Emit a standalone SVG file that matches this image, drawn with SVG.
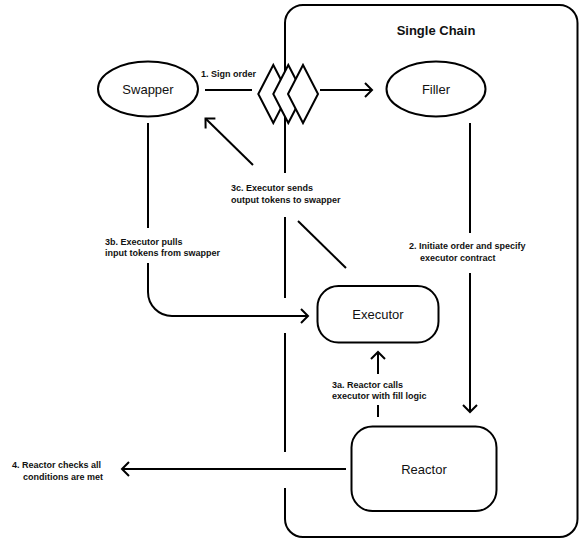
<svg xmlns="http://www.w3.org/2000/svg" width="580" height="541" viewBox="0 0 580 541">
<defs>
<style>
.s{fill:none;stroke:#000;stroke-width:2}
.n{fill:#fff;stroke:#000;stroke-width:2}
.t{font-family:"Liberation Sans",Arial,sans-serif;fill:#111}
.nt{font-size:13px;text-anchor:middle}
.lb{font-size:9px;font-weight:bold}
</style>
<marker id="ah" markerUnits="userSpaceOnUse" markerWidth="18" markerHeight="18" viewBox="-10 -9 12 18" refX="0" refY="0" orient="auto">
<path d="M-7,-7 L0,0 L-7,7" fill="none" stroke="#000" stroke-width="2"/>
</marker>
</defs>
<rect width="580" height="541" fill="#fff"/>
<g id="single-chain">
<path class="s" d="M285,173 V23 A18,18 0 0 1 303,5 H559.5 A18,18 0 0 1 577.5,23 V519 A18,18 0 0 1 559.5,537 H303 A18,18 0 0 1 285,519 V488"/>
<path class="s" d="M285,217 V298 M285,333 V452"/>
<text class="t" x="436" y="35" font-size="13" font-weight="bold" text-anchor="middle">Single Chain</text>
</g>
<g id="connectors">
<path class="s" d="M205,90 H252"/>
<path class="s" d="M320,90 H372" marker-end="url(#ah)"/>
<path class="s" d="M470,123 V233"/>
<path class="s" d="M470,273 V412" marker-end="url(#ah)"/>
<path class="s" d="M148,123 V228"/>
<path class="s" d="M148,263 V292 A24,24 0 0 0 172,316 H308" marker-end="url(#ah)"/>
<path class="s" d="M253,165 L205.5,118.5" marker-end="url(#ah)"/>
<path class="s" d="M298,221 L346,268"/>
<path class="s" d="M378,374 V352" marker-end="url(#ah)"/>
<path class="s" d="M378,405 V417"/>
<path class="s" d="M346,469 H122" marker-end="url(#ah)"/>
<text class="t lb" x="201" y="77">1. Sign order</text>
<text class="t lb" x="231" y="191">3c. Executor sends</text>
<text class="t lb" x="231" y="202.5">output tokens to swapper</text>
<text class="t lb" x="105" y="245">3b. Executor pulls</text>
<text class="t lb" x="105" y="256">input tokens from swapper</text>
<text class="t lb" x="409" y="249">2. Initiate order and specify</text>
<text class="t lb" x="420" y="260.5">executor contract</text>
<text class="t lb" x="332" y="388">3a. Reactor calls</text>
<text class="t lb" x="332" y="399">executor with fill logic</text>
<text class="t lb" x="12" y="468">4. Reactor checks all</text>
<text class="t lb" x="23" y="479.5">conditions are met</text>
</g>
<g id="order">
<polygon class="n" points="258.3,94 273.3,65 288.3,94 273.3,123"/>
<polygon class="n" points="273.3,94 288.3,65 303.3,94 288.3,123"/>
<polygon class="n" points="288,94 303,65 318,94 303,123"/>
</g>
<g id="swapper">
<ellipse class="n" cx="148" cy="89" rx="50" ry="27.5"/>
<text class="t nt" x="148" y="93.5">Swapper</text>
</g>
<g id="filler">
<ellipse class="n" cx="436" cy="89" rx="49.5" ry="27.5"/>
<text class="t nt" x="436" y="93.5">Filler</text>
</g>
<g id="executor">
<rect class="n" x="317.5" y="286" width="121" height="56.5" rx="21"/>
<text class="t nt" x="378" y="318.5">Executor</text>
</g>
<g id="reactor">
<rect class="n" x="351.5" y="426.5" width="145" height="84.5" rx="21"/>
<text class="t nt" x="424" y="473.5">Reactor</text>
</g>
</svg>
